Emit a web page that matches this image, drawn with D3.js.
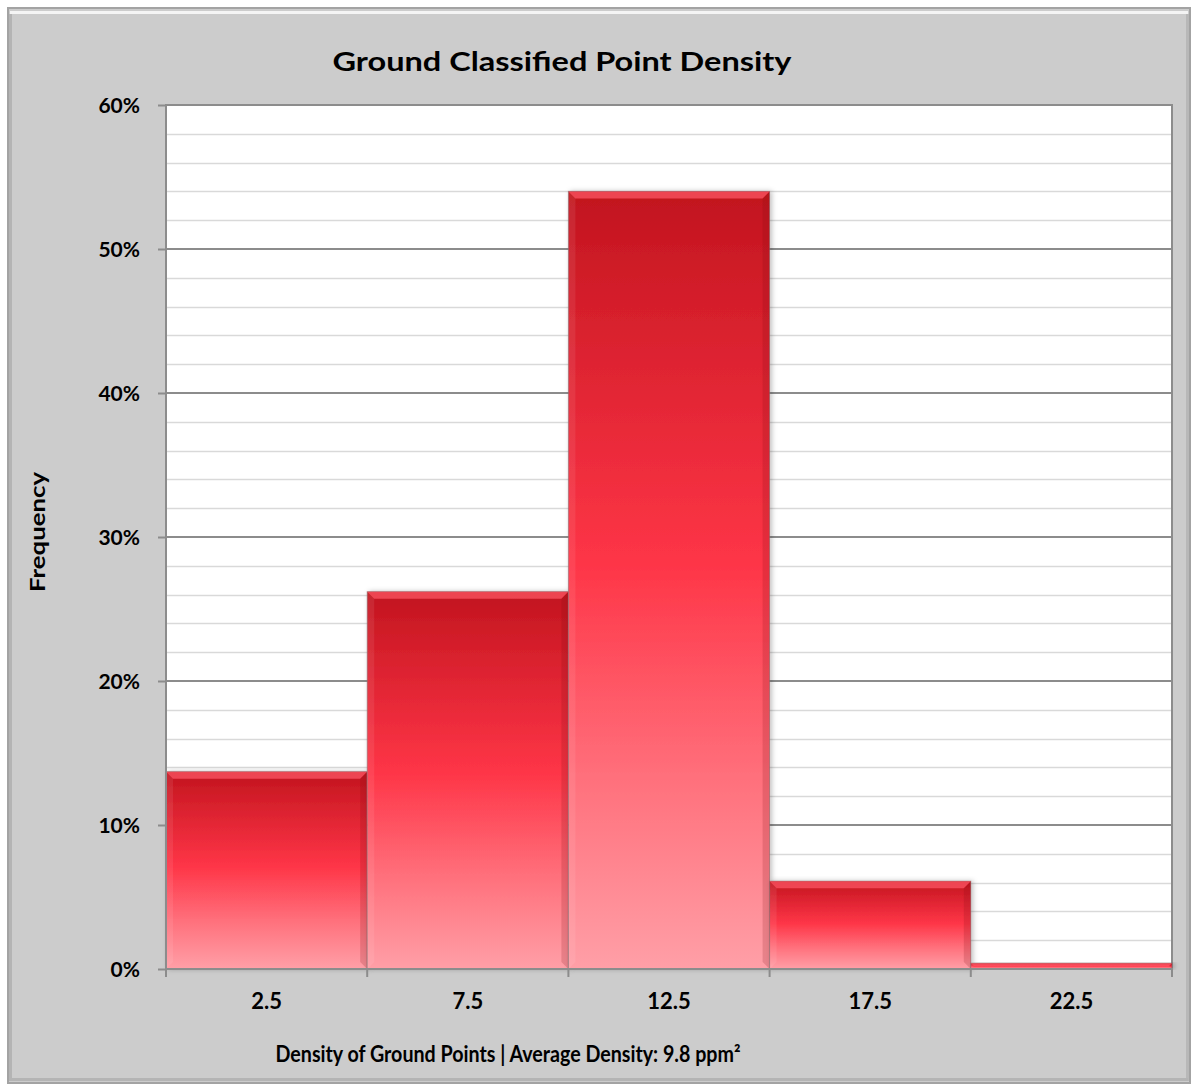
<!DOCTYPE html>
<html>
<head>
<meta charset="utf-8">
<script src="https://cdn.jsdelivr.net/npm/d3@7"></script>
<style>
  html, body { margin: 0; padding: 0; background: #ffffff; }
  svg { display: block; }
  text { font-family: Lato, "Open Sans", sans-serif; font-weight: 700; fill: #000; }
</style>
</head>
<body>
<svg id="chart" width="1193" height="1086"></svg>
<script>
// Histogram bins (bin centres, ground points per m²) and their share of cells
const categories = ["2.5", "7.5", "12.5", "17.5", "22.5"];
const frequency = [0.137, 0.262, 0.540, 0.061, 0.004];
const yTicks = [0, 0.1, 0.2, 0.3, 0.4, 0.5, 0.6];
const chartTitle = "Ground Classified Point Density";
const xTitle = "Density of Ground Points | Average Density: 9.8 ppm\u00B2";
const yTitle = "Frequency";

const W = 1193, H = 1086;
const plot = { left: 166, top: 105, right: 1172, bottom: 969 };

const svg = d3.select("#chart");
const defs = svg.append("defs");

// Bar fill: deep red at the top fading to pink at the base
const grad = defs.append("linearGradient")
  .attr("id", "barFill").attr("x1", 0).attr("y1", 0).attr("x2", 0).attr("y2", 1);
[["0%", "#c1141e"], ["12%", "#d21d29"], ["48%", "#fe3547"], ["75%", "#ff6f7b"], ["100%", "#ff9fa7"]]
  .forEach(([o, c]) => grad.append("stop").attr("offset", o).attr("stop-color", c));

const shadow = defs.append("filter").attr("id", "barShadow")
  .attr("x", "-5%").attr("y", "-5%").attr("width", "115%").attr("height", "115%");
shadow.append("feDropShadow").attr("dx", 2).attr("dy", 0).attr("stdDeviation", 2.5)
  .attr("flood-color", "#000").attr("flood-opacity", 0.25);

// Chart frame with a bevelled edge
svg.append("rect").attr("x", 8).attr("y", 8).attr("width", 1182).attr("height", 1075)
  .attr("fill", "#cccccc").attr("stroke", "#a3a3a3").attr("stroke-width", 2);
svg.append("line").attr("x1", 10).attr("x2", 1188).attr("y1", 12.5).attr("y2", 12.5)
  .attr("stroke", "#f4f4f4").attr("stroke-width", 3);
svg.append("line").attr("x1", 10.5).attr("x2", 10.5).attr("y1", 14).attr("y2", 1081)
  .attr("stroke", "#b4b4b4").attr("stroke-width", 3);
svg.append("line").attr("x1", 1187.5).attr("x2", 1187.5).attr("y1", 14).attr("y2", 1081)
  .attr("stroke", "#b8b8b8").attr("stroke-width", 3);
svg.append("line").attr("x1", 10).attr("x2", 1188).attr("y1", 1079.5).attr("y2", 1079.5)
  .attr("stroke", "#b4b4b4").attr("stroke-width", 3);

// Scales
const x = d3.scaleBand().domain(categories).range([plot.left, plot.right]).padding(0);
const y = d3.scaleLinear().domain([0, 0.6]).range([plot.bottom, plot.top]);

// Plot area
svg.append("rect").attr("x", plot.left).attr("y", plot.top)
  .attr("width", plot.right - plot.left).attr("height", plot.bottom - plot.top)
  .attr("fill", "#ffffff");

// Minor gridlines every 2 %
const minor = d3.range(0.02, 0.6, 0.02).filter(v => Math.abs(v * 10 - Math.round(v * 10)) > 1e-6);
svg.append("g").selectAll("line").data(minor).join("line")
  .attr("x1", plot.left).attr("x2", plot.right)
  .attr("y1", d => Math.round(y(d)) + 0.5).attr("y2", d => Math.round(y(d)) + 0.5)
  .attr("stroke", "#d9d9d9").attr("stroke-width", 1.5);

// Major gridlines every 10 %
svg.append("g").selectAll("line").data(yTicks.slice(1)).join("line")
  .attr("x1", plot.left).attr("x2", plot.right)
  .attr("y1", d => y(d)).attr("y2", d => y(d))
  .attr("stroke", "#8c8c8c").attr("stroke-width", 2);

// Right border of plot area
svg.append("line").attr("x1", plot.right).attr("x2", plot.right)
  .attr("y1", plot.top - 1).attr("y2", plot.bottom)
  .attr("stroke", "#8c8c8c").attr("stroke-width", 2);

// Bars
const bars = svg.append("g").selectAll("g").data(categories).join("g");
bars.append("rect")
  .attr("x", d => x(d)).attr("y", (d, i) => y(frequency[i]))
  .attr("width", x.bandwidth()).attr("height", (d, i) => y(0) - y(frequency[i]))
  .attr("fill", "url(#barFill)").attr("filter", "url(#barShadow)")
  .attr("stroke", "#8a6a6e").attr("stroke-opacity", 0.6).attr("stroke-width", 1);

// Bevel highlights along the top and darker right edge
const bev = (i) => Math.min(7, (y(0) - y(frequency[i])) / 2);
bars.append("path")
  .attr("d", (d, i) => {
    const x0 = x(d), x1 = x(d) + x.bandwidth(), t = y(frequency[i]), b = bev(i);
    return `M${x0},${t}L${x1},${t}L${x1 - b},${t + b}L${x0 + b},${t + b}Z`;
  })
  .attr("fill", "#ff5a68").attr("opacity", 0.7);
bars.append("path")
  .attr("d", (d, i) => {
    const x1 = x(d) + x.bandwidth(), t = y(frequency[i]), b = bev(i);
    return `M${x1},${t}L${x1},${y(0)}L${x1 - b},${y(0) - b}L${x1 - b},${t + b}Z`;
  })
  .attr("fill", "#7a0a12").attr("opacity", 0.18);
bars.append("path")
  .attr("d", (d, i) => {
    const x0 = x(d), t = y(frequency[i]), b = bev(i);
    return `M${x0},${t}L${x0 + b},${t + b}L${x0 + b},${y(0) - b}L${x0},${y(0)}Z`;
  })
  .attr("fill", "#ffffff").attr("opacity", 0.08);

// Y axis
const yAxis = svg.append("g").attr("transform", `translate(${plot.left},0)`)
  .call(d3.axisLeft(y).tickValues(yTicks).tickFormat(d3.format(".0%")).tickSize(8).tickPadding(18));
yAxis.select(".domain").attr("stroke", "#8c8c8c").attr("stroke-width", 2)
  .attr("d", `M0,${plot.top - 1}V${plot.bottom + 1}`);
yAxis.selectAll(".tick line").attr("stroke", "#8c8c8c").attr("stroke-width", 2);
yAxis.selectAll(".tick text").attr("font-size", 21).attr("fill", "#000")
  .style("font-family", "Lato, sans-serif").style("font-weight", 700).attr("dy", "0.36em");

// X axis: labels at bin centres, ticks at bin edges
const xAxis = svg.append("g").attr("transform", `translate(0,${plot.bottom})`)
  .call(d3.axisBottom(x).tickSize(0).tickPadding(24));
xAxis.select(".domain").attr("stroke", "#8c8c8c").attr("stroke-width", 2)
  .attr("d", `M${plot.left - 1},0H${plot.right + 1}`);
xAxis.selectAll(".tick text").attr("font-size", 22).attr("fill", "#000")
  .style("font-family", "Lato, sans-serif").style("font-weight", 700);
const edges = categories.map(c => x(c)).concat([x(categories[categories.length - 1]) + x.bandwidth()]);
xAxis.selectAll("line.edge").data(edges).join("line").attr("class", "edge")
  .attr("x1", d => d).attr("x2", d => d).attr("y1", 0).attr("y2", 8)
  .attr("stroke", "#8c8c8c").attr("stroke-width", 2);

// Titles
svg.append("text").attr("x", 562).attr("y", 71).attr("text-anchor", "middle")
  .attr("font-size", 27).attr("textLength", 459).attr("lengthAdjust", "spacingAndGlyphs")
  .text(chartTitle);
svg.append("text").attr("x", 508).attr("y", 1062).attr("text-anchor", "middle")
  .attr("font-size", 22).attr("textLength", 465).attr("lengthAdjust", "spacingAndGlyphs")
  .text(xTitle);
svg.append("text").attr("transform", "translate(45,532) rotate(-90)").attr("text-anchor", "middle")
  .attr("font-size", 21).attr("textLength", 120).attr("lengthAdjust", "spacingAndGlyphs")
  .text(yTitle);
</script>
</body>
</html>
